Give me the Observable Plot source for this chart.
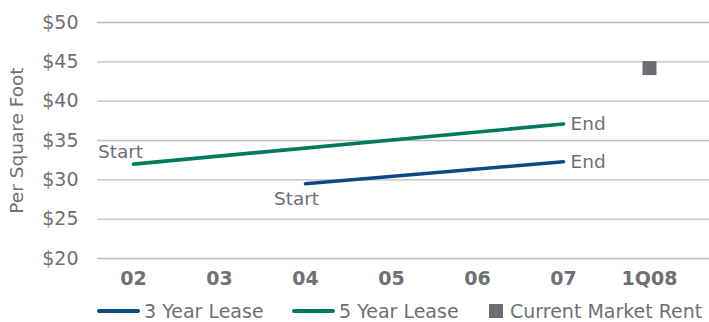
<!DOCTYPE html>
<html><head><meta charset="utf-8">
<script src="https://cdn.jsdelivr.net/npm/d3@7"></script>
<script src="https://cdn.jsdelivr.net/npm/@observablehq/plot@0.6"></script>
<style>
body{margin:0;background:#fff;font-family:"DejaVu Sans",sans-serif;}
#chart{position:relative;width:709px;height:322px;overflow:hidden;}
#chart svg{position:absolute;left:0;top:0;}
.item{position:absolute;top:300px;height:22px;display:flex;align-items:center;font-size:19px;color:#6f7073;white-space:nowrap;}
.sw{display:inline-block;height:4px;border-radius:2px;margin-right:4px;}
.sq{display:inline-block;width:14px;height:14px;background:#6d6e71;margin-right:7px;}
</style></head><body>
<div id="chart"></div>
<script>
const categories = ["02","03","04","05","06","07","1Q08"];
const lease3Years = ["04","07"];
const lease3Values = [29.5, 32.3];
const lease5Years = ["02","07"];
const lease5Values = [32.0, 37.1];
const marketYears = ["1Q08"];
const marketValues = [44.2];
const yTicks = [20,25,30,35,40,45,50];
const seriesNames = ["3 Year Lease","5 Year Lease","Current Market Rent"];
const pointLabels = ["Start","End"];

const blue = "#0a4a82", green = "#007a5c", gray = "#6d6e71", textGray = "#6f7073";

const l3 = lease3Years.map((c,i)=>({c, v: lease3Values[i], label: pointLabels[i]}));
const l5 = lease5Years.map((c,i)=>({c, v: lease5Values[i], label: pointLabels[i]}));
const mk = marketYears.map((c,i)=>({c, v: marketValues[i]}));

const chart = Plot.plot({
  width: 709, height: 296,
  marginTop: 22, marginBottom: 38, marginLeft: 97, marginRight: 0,
  style: {fontFamily: "DejaVu Sans, sans-serif", color: textGray, background: "transparent"},
  x: {type: "point", domain: categories, range: [132, 650], padding: 0},
  y: {domain: [20, 50]},
  marks: [
    Plot.gridY(yTicks, {stroke: "#bcbcbc", strokeOpacity: 1, strokeWidth: 1.4}),
    Plot.axisY(yTicks, {tickSize: 0, tickPadding: 19, tickFormat: d => "$" + d, fontSize: 19, fill: textGray, label: null}),
    Plot.axisX(categories, {tickSize: 0, tickPadding: 13, fontSize: 19, fontWeight: "bold", fill: textGray, label: null}),
    Plot.text(["Per Square Foot"], {frameAnchor: "left", textAnchor: "middle", rotate: -90, dx: -80, fontSize: 18.5, fill: textGray}),
    Plot.line(l5, {x: "c", y: "v", stroke: green, strokeWidth: 3.6}),
    Plot.line(l3, {x: "c", y: "v", stroke: blue, strokeWidth: 3.6}),
    Plot.dot(mk, {x: "c", y: "v", symbol: "square", r: 7.9, fill: gray, stroke: null}),
    Plot.text(l5.filter(d => d.label === "Start"), {x: "c", y: "v", text: "label", dx: -13, dy: -12, fontSize: 18.5, fill: textGray}),
    Plot.text(l3.filter(d => d.label === "Start"), {x: "c", y: "v", text: "label", dx: -9, dy: 15, fontSize: 18.5, fill: textGray}),
    Plot.text(l5.filter(d => d.label === "End"), {x: "c", y: "v", text: "label", dx: 7, textAnchor: "start", fontSize: 18.5, fill: textGray}),
    Plot.text(l3.filter(d => d.label === "End"), {x: "c", y: "v", text: "label", dx: 7, textAnchor: "start", fontSize: 18.5, fill: textGray})
  ]
});
const root = document.getElementById("chart");
root.appendChild(chart);

const legendItems = [
  {name: seriesNames[0], left: 97, kind: "line", color: blue},
  {name: seriesNames[1], left: 292, kind: "line", color: green},
  {name: seriesNames[2], left: 489, kind: "square", color: gray}
];
for (const it of legendItems) {
  const d = document.createElement("div");
  d.className = "item";
  d.style.left = it.left + "px";
  const s = document.createElement("span");
  if (it.kind === "line") { s.className = "sw"; s.style.width = "43px"; s.style.background = it.color; }
  else { s.className = "sq"; s.style.background = it.color; }
  d.appendChild(s);
  d.appendChild(document.createTextNode(it.name));
  root.appendChild(d);
}
</script>
</body></html>
